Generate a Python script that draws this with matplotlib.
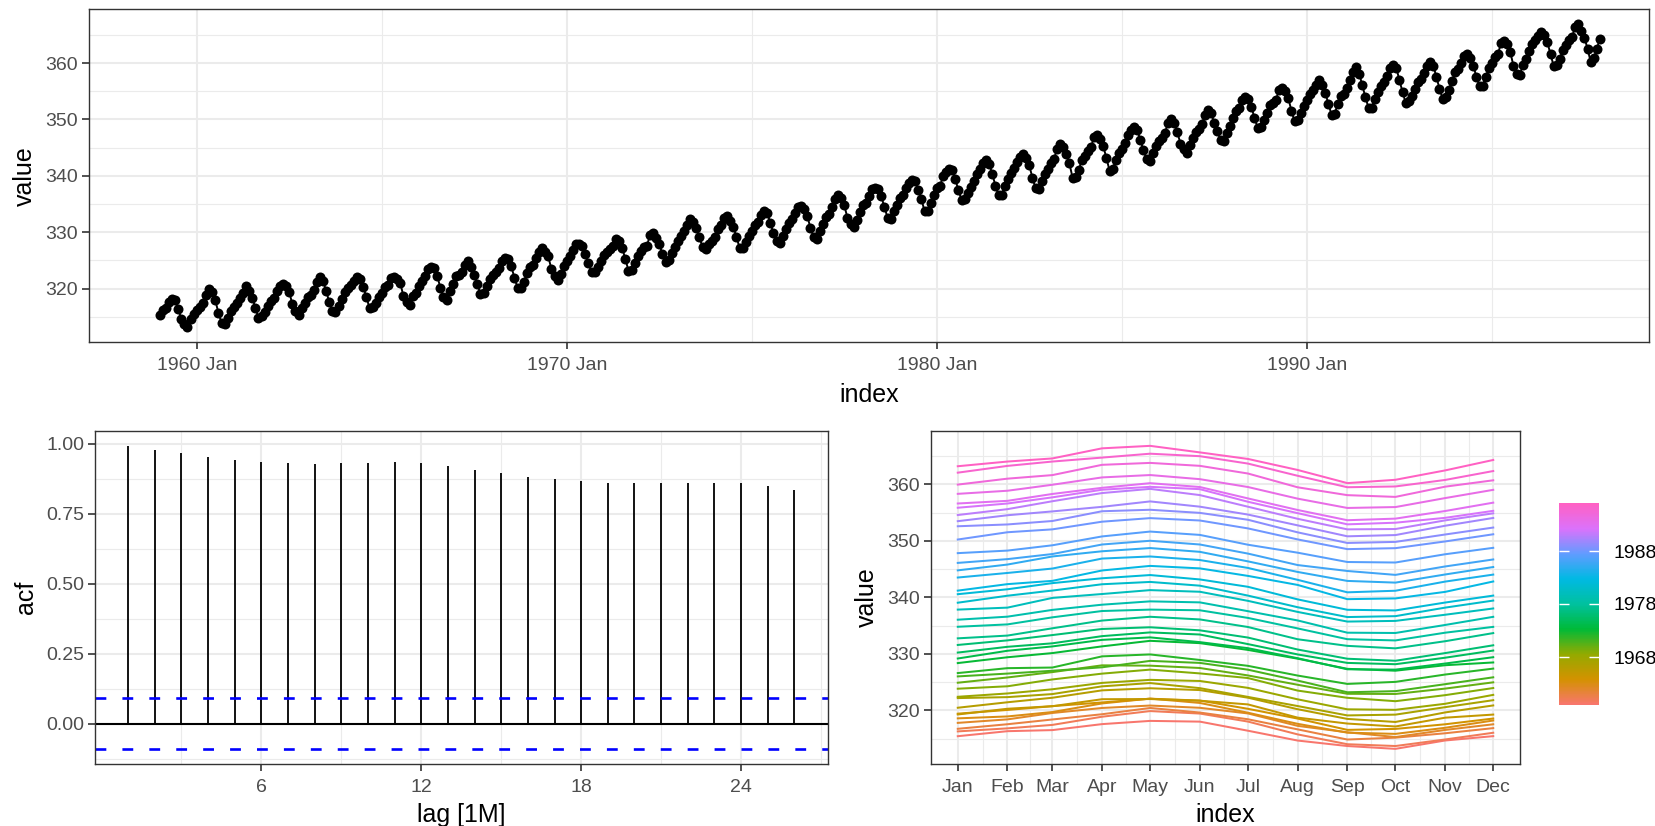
import matplotlib
matplotlib.use('Agg')
import matplotlib.pyplot as plt
import matplotlib.dates as mdates
import numpy as np
import pandas as pd
from matplotlib.colors import LinearSegmentedColormap, Normalize
from matplotlib.cm import ScalarMappable

plt.rcParams['font.family'] = ['Liberation Sans', 'DejaVu Sans']

# monthly CO2 (ppm), Jan 1959 .. Dec 1997
co2 = [
    315.42, 316.31, 316.50, 317.56, 318.13, 318.00, 316.39, 314.65, 313.68, 313.18, 314.66, 315.43,
    316.27, 316.81, 317.42, 318.87, 319.87, 319.43, 318.01, 315.74, 314.00, 313.68, 314.84, 316.03,
    316.73, 317.54, 318.38, 319.31, 320.42, 319.61, 318.42, 316.63, 314.83, 315.16, 315.94, 316.85,
    317.78, 318.40, 319.53, 320.42, 320.85, 320.45, 319.45, 317.25, 316.11, 315.27, 316.53, 317.53,
    318.58, 318.92, 319.70, 321.22, 322.08, 321.31, 319.58, 317.61, 316.05, 315.83, 316.91, 318.20,
    319.41, 320.07, 320.74, 321.40, 322.06, 321.73, 320.27, 318.54, 316.54, 316.71, 317.53, 318.55,
    319.27, 320.28, 320.73, 321.97, 322.00, 321.71, 321.05, 318.71, 317.66, 317.14, 318.70, 319.25,
    320.46, 321.43, 322.23, 323.54, 323.91, 323.59, 322.24, 320.20, 318.48, 317.94, 319.63, 320.87,
    322.17, 322.34, 322.88, 324.25, 324.83, 323.93, 322.38, 320.76, 319.10, 319.24, 320.56, 321.80,
    322.40, 322.99, 323.73, 324.86, 325.40, 325.20, 323.98, 321.95, 320.18, 320.09, 321.16, 322.74,
    323.83, 324.26, 325.47, 326.50, 327.21, 326.54, 325.72, 323.50, 322.22, 321.62, 322.69, 323.95,
    324.89, 325.82, 326.77, 327.97, 327.91, 327.50, 326.18, 324.53, 322.93, 322.90, 323.85, 324.96,
    326.01, 326.51, 327.01, 327.62, 328.76, 328.40, 327.20, 325.27, 323.20, 323.40, 324.63, 325.85,
    326.60, 327.47, 327.58, 329.56, 329.90, 328.92, 327.88, 326.16, 324.68, 325.04, 326.34, 327.39,
    328.37, 329.40, 330.14, 331.33, 332.31, 331.90, 330.70, 329.15, 327.35, 327.02, 327.99, 328.48,
    329.18, 330.55, 331.32, 332.48, 332.92, 332.08, 331.01, 329.23, 327.27, 327.21, 328.29, 329.41,
    330.23, 331.25, 331.87, 333.14, 333.80, 333.43, 331.73, 329.90, 328.40, 328.17, 329.32, 330.59,
    331.58, 332.39, 333.33, 334.41, 334.71, 334.17, 332.89, 330.77, 329.14, 328.78, 330.14, 331.52,
    332.75, 333.24, 334.53, 335.90, 336.57, 336.10, 334.76, 332.59, 331.42, 330.98, 332.24, 333.68,
    334.80, 335.22, 336.47, 337.59, 337.84, 337.72, 336.37, 334.51, 332.60, 332.38, 333.75, 334.78,
    336.05, 336.59, 337.79, 338.71, 339.30, 339.12, 337.56, 335.92, 333.75, 333.70, 335.12, 336.56,
    337.84, 338.19, 339.91, 340.60, 341.29, 341.00, 339.39, 337.43, 335.72, 335.84, 336.93, 338.04,
    339.06, 340.30, 341.21, 342.33, 342.74, 342.08, 340.32, 338.26, 336.52, 336.68, 338.19, 339.44,
    340.57, 341.44, 342.53, 343.39, 343.96, 343.18, 341.88, 339.65, 337.81, 337.69, 339.09, 340.32,
    341.20, 342.35, 342.93, 344.77, 345.58, 345.14, 343.81, 342.21, 339.69, 339.82, 340.98, 342.82,
    343.52, 344.33, 345.11, 346.88, 347.25, 346.62, 345.22, 343.11, 340.90, 341.18, 342.80, 344.04,
    344.79, 345.82, 347.25, 348.17, 348.74, 348.07, 346.38, 344.51, 342.92, 342.62, 344.06, 345.38,
    346.11, 346.78, 347.68, 349.37, 350.03, 349.37, 347.76, 345.73, 344.68, 343.99, 345.48, 346.72,
    347.84, 348.29, 349.23, 350.80, 351.66, 351.07, 349.33, 347.92, 346.27, 346.18, 347.64, 348.78,
    350.25, 351.54, 352.05, 353.41, 354.04, 353.62, 352.22, 350.27, 348.55, 348.72, 349.91, 351.18,
    352.60, 352.92, 353.53, 355.26, 355.52, 354.97, 353.75, 351.52, 349.64, 349.83, 351.14, 352.37,
    353.50, 354.55, 355.23, 356.04, 357.00, 356.07, 354.67, 352.76, 350.82, 351.04, 352.69, 354.07,
    354.59, 355.63, 357.03, 358.48, 359.22, 358.12, 356.06, 353.92, 352.05, 352.11, 353.64, 354.89,
    355.88, 356.63, 357.72, 359.07, 359.58, 359.17, 356.94, 354.92, 352.94, 353.23, 354.09, 355.33,
    356.63, 357.10, 358.32, 359.41, 360.23, 359.55, 357.53, 355.48, 353.67, 353.95, 355.30, 356.78,
    358.34, 358.89, 359.95, 361.25, 361.67, 360.94, 359.55, 357.49, 355.84, 356.00, 357.59, 359.05,
    359.98, 361.03, 361.66, 363.48, 363.82, 363.30, 361.94, 359.50, 358.11, 357.80, 359.61, 360.74,
    362.09, 363.29, 364.06, 364.76, 365.45, 365.01, 363.70, 361.54, 359.51, 359.65, 360.80, 362.38,
    363.23, 364.06, 364.61, 366.40, 366.84, 365.68, 364.52, 362.57, 360.24, 360.83, 362.49, 364.34,
]
first_year = 1959
last_year = 1997

acf_lags = list(range(1, 27))
acf_values = [0.992, 0.979, 0.966, 0.953, 0.942, 0.936, 0.931, 0.929, 0.930, 0.932,
              0.934, 0.931, 0.921, 0.907, 0.894, 0.881, 0.872, 0.865, 0.860, 0.858,
              0.859, 0.860, 0.861, 0.858, 0.848, 0.835]
ci_bound = 0.0906

hue_colours = ['#F8766D', '#D39200', '#93AA00', '#00BA38', '#00C19F',
               '#00B9E3', '#619CFF', '#DB72FB', '#FF61C3']
legend_years = [1968, 1978, 1988]

W, H = 1655, 826
fig = plt.figure(figsize=(W / 100, H / 100), dpi=100)


def px_axes(l, t, r, b):
    return fig.add_axes([l / W, 1 - b / H, (r - l) / W, (b - t) / H])


def bw_style(ax):
    ax.set_facecolor('white')
    for s in ax.spines.values():
        s.set_color('#333333')
        s.set_linewidth(1.0)
    ax.grid(which='major', color='#EBEBEB', lw=1.5)
    ax.grid(which='minor', color='#EBEBEB', lw=0.8)
    ax.set_axisbelow(True)
    ax.tick_params(which='major', length=4.8, width=1.2, color='#333333',
                   labelsize=14, labelcolor='#4D4D4D', pad=3)
    ax.tick_params(axis='x', which='major', pad=6)
    ax.tick_params(which='minor', length=0)


def expand(lo, hi, f=0.05):
    d = (hi - lo) * f
    return lo - d, hi + d


# ---- top: time series
ax1 = px_axes(88.8, 9.3, 1648.7, 342.3)
bw_style(ax1)
dates = pd.date_range(f'{first_year}-01-01', periods=len(co2), freq='MS')
ax1.plot(dates, co2, color='black', lw=1.4)
ax1.plot(dates, co2, 'o', color='black', ms=7.2, mew=0)
ax1.set_xlim(pd.Timestamp('1957-01-30'), pd.Timestamp('1999-03-28'))
ylo, yhi = expand(min(co2), max(co2))
ax1.set_ylim(ylo, yhi)
ax1.set_yticks([320, 330, 340, 350, 360])
ax1.set_yticks(np.arange(315, 370, 10), minor=True)
ax1.set_xticks(pd.to_datetime(['1960-01-01', '1970-01-01', '1980-01-01', '1990-01-01']))
ax1.set_xticks(pd.to_datetime(['1965-01-01', '1975-01-01', '1985-01-01', '1995-01-01']), minor=True)
ax1.xaxis.set_major_formatter(mdates.DateFormatter('%Y %b'))
ax1.set_xlabel('index', fontsize=18, labelpad=6)
ax1.set_ylabel('value', fontsize=18, labelpad=6)

# ---- bottom left: ACF
ax2 = px_axes(94.9, 430.7, 827.6, 764.3)
bw_style(ax2)
ax2.vlines(acf_lags, 0, acf_values, color='black', lw=1.3)
ax2.axhline(0, color='black', lw=1.5)
for b in (ci_bound, -ci_bound):
    ax2.axhline(b, color='blue', lw=1.9, ls=(0, (4.1, 6.1)))
ax2.set_xlim(*expand(min(acf_lags), max(acf_lags)))
ax2.set_ylim(*expand(-ci_bound, max(acf_values)))
ax2.set_xticks([6, 12, 18, 24])
ax2.set_xticks([3, 9, 15, 21, 27], minor=True)
ax2.set_yticks([0, 0.25, 0.5, 0.75, 1.0])
ax2.set_yticklabels(['0.00', '0.25', '0.50', '0.75', '1.00'])
ax2.set_yticks([-0.125, 0.125, 0.375, 0.625, 0.875], minor=True)
ax2.set_xlabel('lag [1M]', fontsize=18, labelpad=5)
ax2.set_ylabel('acf', fontsize=18, labelpad=6)

# ---- bottom right: season plot
cmap = LinearSegmentedColormap.from_list('hue', hue_colours)
norm = Normalize(first_year, last_year)
ax3 = px_axes(931, 430.7, 1520, 764)
bw_style(ax3)
month_dates = pd.date_range('1997-01-01', periods=12, freq='MS')
for i, year in enumerate(range(first_year, last_year + 1)):
    ax3.plot(month_dates, co2[i * 12:(i + 1) * 12], color=cmap(norm(year)), lw=1.45)
mnum = mdates.date2num(month_dates)
ax3.set_xlim(*expand(mnum[0], mnum[-1]))
ax3.set_ylim(ylo, yhi)
ax3.set_xticks(month_dates)
ax3.set_xticks((mnum[:-1] + mnum[1:]) / 2, minor=True)
ax3.xaxis.set_major_formatter(mdates.DateFormatter('%b'))
ax3.set_yticks([320, 330, 340, 350, 360])
ax3.set_yticks(np.arange(315, 370, 10), minor=True)
ax3.set_xlabel('index', fontsize=18, labelpad=5)
ax3.set_ylabel('value', fontsize=18, labelpad=6)

# colour bar legend
cax = px_axes(1559.3, 503.3, 1599.3, 704.7)
cb = fig.colorbar(ScalarMappable(norm=norm, cmap=cmap), cax=cax)
cb.outline.set_visible(False)
cb.set_ticks(legend_years)
cax.tick_params(axis='y', direction='in', length=7, width=1, color='white',
                left=True, right=True, labelsize=14, labelcolor='black', pad=10)

fig.savefig('out.png', dpi=100)
